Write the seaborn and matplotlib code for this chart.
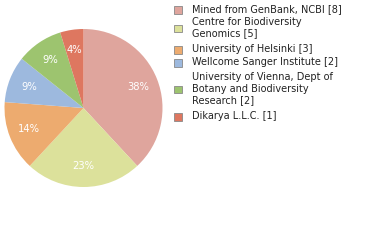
import matplotlib
matplotlib.use("Agg")
import matplotlib.pyplot as plt
from matplotlib.patches import Rectangle
import seaborn as sns

labels = ["Mined from GenBank, NCBI [8]",
          "Centre for Biodiversity\nGenomics [5]",
          "University of Helsinki [3]",
          "Wellcome Sanger Institute [2]",
          "University of Vienna, Dept of\nBotany and Biodiversity\nResearch [2]",
          "Dikarya L.L.C. [1]"]
values = [8, 5, 3, 2, 2, 1]
colors = ["#DFA59D", "#DCE19B", "#EDAB6F", "#9DB9DE", "#9DC46F", "#DE7760"]

sns.set_theme(style="white")
plt.rcParams['font.family'] = ['DejaVu Sans']
palette = sns.color_palette(colors)

fig = plt.figure(figsize=(3.8, 2.4), dpi=100)
ax = fig.add_axes([4.5/380, (240-187)/240, 158/380, 158/240])
wedges, texts, autotexts = ax.pie(values, colors=palette, startangle=90, counterclock=False,
                                  autopct=lambda p: f"{int(p)}%", pctdistance=0.74,
                                  wedgeprops=dict(linewidth=0),
                                  textprops=dict(color="white", fontsize=7.2))
ax.set_xlim(-1, 1)
ax.set_ylim(-1, 1)
ax.set_aspect("equal")
ax.axis("off")

# legend
ys = [9, 27.5, 49, 62, 88.5, 116]
fs = 7.0
for lab, col, y in zip(labels, palette, ys):
    fig.patches.append(Rectangle((174/380, 1 - (y + 4.5)/240), 7.5/380, 7.5/240,
                                 transform=fig.transFigure, facecolor=col,
                                 edgecolor="#888888", linewidth=0.6))
    fig.text(192/380, 1 - y/240, lab, fontsize=fs, va="center", ha="left",
             color="#222222", linespacing=1.2)

fig.savefig("out.png", dpi=100)
